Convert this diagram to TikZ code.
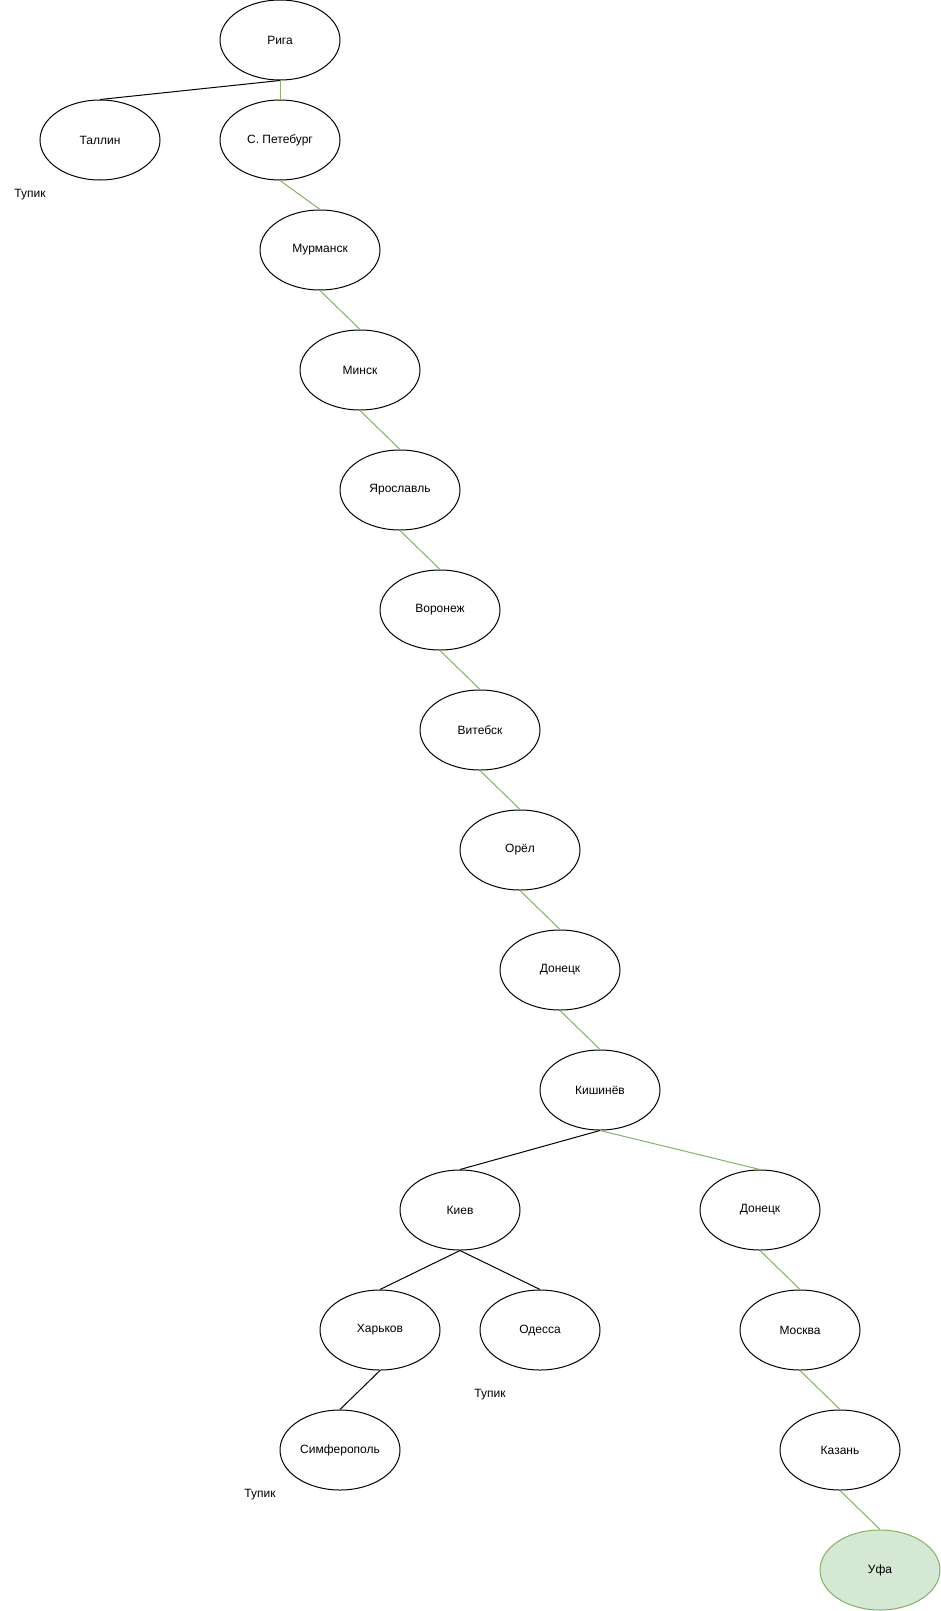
\documentclass[tikz,border=0pt]{standalone}
\usepackage{fontspec}
\setmainfont{Liberation Sans}
\usetikzlibrary{shapes.geometric}
\definecolor{gline}{HTML}{82B366}
\definecolor{gfill}{HTML}{D5E8D4}
\begin{document}
\begin{tikzpicture}[x=1pt,y=-1pt,
  city/.style={ellipse,draw=black,line width=1pt,minimum width=120pt,minimum height=80pt,inner sep=0pt,font=\fontsize{12}{14}\selectfont,fill=white},
  goal/.style={city,draw=gline,fill=gfill},
  blk/.style={draw=black,line width=1pt},
  grn/.style={draw=gline,line width=1pt},
  note/.style={font=\fontsize{12}{14}\selectfont,inner sep=0pt}]
\useasboundingbox (0,0) rectangle (941,1611);
\node[city] (riga) at (280,40) {Рига};
\node[city] (tallin) at (100,140) {Таллин};
\node[city] (spb) at (280,140) {С. Петебург};
\node[city] (murm) at (320,250) {Мурманск};
\node[city] (minsk) at (360,370) {Минск};
\node[city] (yar) at (400,490) {Ярославль};
\node[city] (vor) at (440,610) {Воронеж};
\node[city] (vit) at (480,730) {Витебск};
\node[city] (orel) at (520,850) {Орёл};
\node[city] (don1) at (560,970) {Донецк};
\node[city] (kish) at (600,1090) {Кишинёв};
\node[city] (kiev) at (460,1210) {Киев};
\node[city] (don2) at (760,1210) {Донецк};
\node[city] (khar) at (380,1330) {Харьков};
\node[city] (odes) at (540,1330) {Одесса};
\node[city] (mosk) at (800,1330) {Москва};
\node[city] (simf) at (340,1450) {Симферополь};
\node[city] (kaz) at (840,1450) {Казань};
\node[goal] (ufa) at (880,1570) {Уфа};
\node[note] (t1) at (30,195) {Тупик};
\node[note] (t2) at (490,1395) {Тупик};
\node[note] (t3) at (260,1495) {Тупик};
\draw[blk] (riga.south) -- (tallin.north);
\draw[grn] (riga.south) -- (spb.north);
\draw[grn] (spb.south) -- (murm.north);
\draw[grn] (murm.south) -- (minsk.north);
\draw[grn] (minsk.south) -- (yar.north);
\draw[grn] (yar.south) -- (vor.north);
\draw[grn] (vor.south) -- (vit.north);
\draw[grn] (vit.south) -- (orel.north);
\draw[grn] (orel.south) -- (don1.north);
\draw[grn] (don1.south) -- (kish.north);
\draw[blk] (kish.south) -- (kiev.north);
\draw[grn] (kish.south) -- (don2.north);
\draw[blk] (kiev.south) -- (khar.north);
\draw[blk] (kiev.south) -- (odes.north);
\draw[blk] (khar.south) -- (simf.north);
\draw[grn] (don2.south) -- (mosk.north);
\draw[grn] (mosk.south) -- (kaz.north);
\draw[grn] (kaz.south) -- (ufa.north);
\end{tikzpicture}
\end{document}
